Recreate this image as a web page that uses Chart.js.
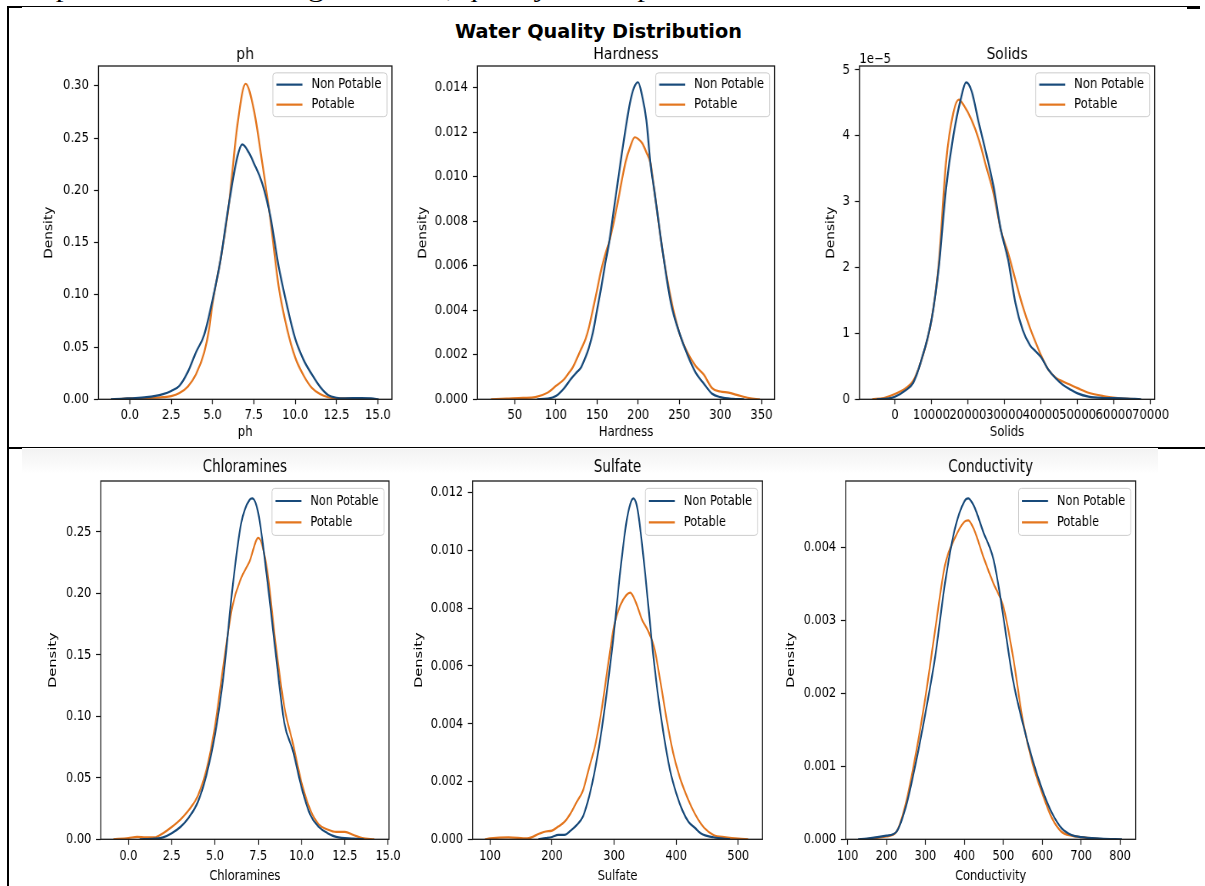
<!DOCTYPE html>
<html><head><meta charset="utf-8">
<script src="https://cdn.jsdelivr.net/npm/chart.js@4.4.1/dist/chart.umd.min.js"></script>
<style>
html,body{margin:0;padding:0;background:#fff;}
body{width:1205px;height:886px;overflow:hidden;position:relative;}
.abs{position:absolute;}
canvas{position:absolute;}
#caption{position:absolute;left:0;top:-24px;font-family:'Liberation Serif',serif;font-size:26px;line-height:26px;white-space:nowrap;transform-origin:0 0;color:#000;}
#suptitle{position:absolute;top:20.7px;font-family:'DejaVu Sans',sans-serif;font-weight:bold;font-size:20px;line-height:20px;white-space:nowrap;transform-origin:0 0;color:#000;}
</style></head><body>
<div id="caption">acceptable while drinking the water, quality of the predicted variables</div>
<div class="abs" style="left:22px;top:449px;width:1136px;height:25px;background:linear-gradient(to bottom,#f3f3f3 0%,#f9f9f9 55%,#ffffff 100%);"></div>
<div class="abs" style="left:8px;top:6px;width:1192px;height:1px;background:#000"></div>
<div class="abs" style="left:7px;top:6px;width:15px;height:2px;background:#000"></div>
<div class="abs" style="left:1187px;top:6px;width:13px;height:3px;background:#000"></div>
<div class="abs" style="left:7px;top:6px;width:2px;height:880px;background:#000"></div>
<div class="abs" style="left:7px;top:447px;width:1198px;height:1px;background:#000"></div>
<div class="abs" style="left:7px;top:447px;width:15px;height:2px;background:#000"></div>
<div class="abs" style="left:1158px;top:447px;width:47px;height:2px;background:#000"></div>
<div id="suptitle">Water Quality Distribution</div>
<canvas id="c0"></canvas><canvas id="c1"></canvas><canvas id="c2"></canvas>
<canvas id="c3"></canvas><canvas id="c4"></canvas><canvas id="c5"></canvas>
<script>
// ---------- data ----------
const seriesLabels = ['Non Potable', 'Potable'];

// ph
const phXTicks = [0, 2.5, 5, 7.5, 10, 12.5, 15];
const phYTicks = [0, 0.05, 0.10, 0.15, 0.20, 0.25, 0.30];
const phNonPotable = [[-1.15,0],[-0.5,0.0005],[0,0.001],[1,0.002],[2,0.005],[2.5,0.008],[3,0.013],[3.5,0.026],[4,0.045],[4.5,0.062],[5,0.095],[5.5,0.135],[6,0.188],[6.5,0.232],[6.8,0.244],[7.2,0.236],[7.5,0.226],[8,0.207],[8.5,0.175],[9,0.127],[9.5,0.090],[10,0.058],[10.5,0.038],[11,0.024],[11.5,0.012],[12,0.004],[12.5,0.0015],[13,0.001],[14,0.0012],[14.6,0.0008],[15.05,0]];
const phPotable = [[-0.9,0],[0,0.0008],[1,0.0012],[2,0.002],[2.5,0.003],[3,0.006],[3.5,0.012],[4,0.024],[4.5,0.045],[4.8,0.068],[5,0.092],[5.5,0.135],[6,0.188],[6.5,0.262],[7,0.302],[7.5,0.277],[8,0.227],[8.5,0.172],[9,0.108],[9.5,0.068],[10,0.040],[10.5,0.023],[11,0.011],[11.5,0.005],[12,0.002],[12.5,0.001],[13.5,0.0008],[14.4,0]];

// Hardness
const hardnessXTicks = [50, 100, 150, 200, 250, 300, 350];
const hardnessYTicks = [0, 0.002, 0.004, 0.006, 0.008, 0.010, 0.012, 0.014];
const hardnessNonPotable = [[77,0],[90,0.00003],[100,0.00015],[110,0.0005],[118,0.0009],[125,0.0012],[130,0.0014],[135,0.0018],[140,0.0023],[145,0.0030],[150,0.0040],[155,0.0050],[160,0.0061],[165,0.0071],[170,0.0084],[175,0.0097],[180,0.0110],[185,0.0122],[190,0.0133],[195,0.0140],[200,0.01424],[205,0.0136],[210,0.01255],[215,0.0106],[220,0.0093],[230,0.0066],[240,0.0043],[250,0.0030],[260,0.0020],[270,0.0012],[280,0.0007],[290,0.00025],[300,0.0001],[315,0.00002],[329,0]];
const hardnessPotable = [[21,0],[40,0.00003],[60,0.00006],[75,0.0001],[90,0.0003],[100,0.0006],[110,0.0009],[116,0.0012],[120,0.0014],[130,0.0022],[136,0.0027],[140,0.0032],[146,0.0042],[150,0.0049],[155,0.0058],[160,0.0065],[165,0.0071],[170,0.0079],[175,0.0088],[180,0.0098],[185,0.0107],[190,0.0113],[196,0.01177],[200,0.0117],[205,0.0115],[210,0.0111],[215,0.0106],[220,0.0093],[230,0.0066],[240,0.0045],[250,0.0030],[260,0.0021],[270,0.0015],[280,0.0011],[290,0.0005],[300,0.00035],[310,0.0003],[320,0.0002],[335,0.00005],[348,0]];

// Solids (density in units of 1e-5)
const solidsXTicks = [0, 10000, 20000, 30000, 40000, 50000, 60000, 70000];
const solidsYTicks = [0, 1, 2, 3, 4, 5];
const solidsNonPotable = [[-5000,0],[-2000,0.01],[0,0.04],[3000,0.14],[5000,0.25],[7000,0.55],[10000,1.2],[12000,2.0],[14000,3.2],[16000,4.0],[18000,4.55],[19500,4.81],[21000,4.68],[23000,4.19],[25000,3.73],[27000,3.23],[29000,2.57],[31000,2.12],[33000,1.46],[35000,1.05],[37000,0.82],[38500,0.73],[40000,0.64],[42000,0.45],[44000,0.32],[46000,0.22],[48000,0.15],[50000,0.09],[53000,0.04],[57000,0.02],[62000,0.015],[67400,0]];
const solidsPotable = [[-6200,0],[-3000,0.02],[0,0.08],[3000,0.17],[5000,0.28],[7000,0.55],[10000,1.2],[12000,2.05],[14000,3.6],[16000,4.35],[17500,4.55],[19000,4.45],[21000,4.24],[23000,3.94],[25000,3.53],[27000,3.13],[29000,2.57],[31000,2.22],[33000,1.81],[35000,1.41],[37000,1.08],[39000,0.80],[40000,0.67],[42000,0.45],[44000,0.33],[46000,0.27],[48000,0.22],[50000,0.17],[53000,0.10],[57000,0.05],[61000,0.02],[64000,0.005],[66000,0]];

// Chloramines
const chlorXTicks = [0, 2.5, 5, 7.5, 10, 12.5, 15];
const chlorYTicks = [0, 0.05, 0.10, 0.15, 0.20, 0.25];
const chlorNonPotable = [[0.65,0],[1.5,0.0005],[2,0.0016],[2.5,0.005],[3,0.010],[3.5,0.018],[4,0.030],[4.5,0.052],[5,0.085],[5.5,0.134],[6,0.203],[6.5,0.256],[7,0.276],[7.15,0.277],[7.5,0.265],[8,0.213],[8.5,0.152],[9,0.095],[9.5,0.072],[10,0.042],[10.5,0.020],[11,0.010],[11.5,0.005],[12,0.002],[13,0.0005],[13.6,0]];
const chlorPotable = [[-0.87,0],[0,0.001],[0.5,0.002],[1,0.0015],[1.5,0.0015],[2,0.005],[2.5,0.010],[3,0.016],[3.5,0.024],[4,0.035],[4.5,0.056],[5,0.092],[5.5,0.143],[6,0.189],[6.5,0.212],[7,0.226],[7.5,0.245],[8,0.220],[8.5,0.159],[9,0.108],[9.5,0.078],[10,0.046],[10.5,0.024],[11,0.012],[11.5,0.008],[12,0.006],[12.5,0.006],[13,0.0035],[13.5,0.001],[14.2,0]];

// Sulfate
const sulfateXTicks = [100, 200, 300, 400, 500];
const sulfateYTicks = [0, 0.002, 0.004, 0.006, 0.008, 0.010, 0.012];
const sulfateNonPotable = [[178,0],[190,0.00004],[200,0.00008],[210,0.00015],[220,0.00015],[230,0.0003],[240,0.0005],[250,0.0008],[260,0.0015],[270,0.0025],[280,0.0038],[290,0.0054],[300,0.0072],[310,0.0093],[320,0.0110],[326,0.0116],[331,0.0118],[336,0.0116],[340,0.0111],[350,0.0092],[360,0.0070],[370,0.0051],[380,0.0036],[390,0.0024],[400,0.0016],[410,0.0010],[420,0.0006],[430,0.0004],[440,0.0002],[460,0.00007],[487,0]];
const sulfatePotable = [[92,0],[100,0.00003],[130,0.00007],[160,0.00003],[180,0.0002],[190,0.00027],[200,0.0003],[210,0.00044],[220,0.0006],[230,0.0009],[240,0.0013],[250,0.0017],[260,0.0025],[270,0.0033],[280,0.0045],[290,0.0060],[300,0.0074],[310,0.0081],[320,0.00846],[326,0.00854],[335,0.0082],[345,0.0076],[355,0.0072],[365,0.0066],[375,0.0054],[385,0.0041],[395,0.0030],[405,0.0022],[415,0.0016],[425,0.0011],[435,0.0007],[445,0.0004],[460,0.00015],[480,0.00007],[500,0.00002],[516,0]];

// Conductivity
const condXTicks = [100, 200, 300, 400, 500, 600, 700, 800];
const condYTicks = [0, 0.001, 0.002, 0.003, 0.004];
const condNonPotable = [[127,0],[150,0.00001],[200,0.00005],[225,0.0001],[250,0.00045],[275,0.00104],[300,0.00173],[325,0.0025],[350,0.0035],[375,0.00424],[400,0.00463],[410,0.00467],[425,0.00456],[450,0.00419],[465,0.0040],[475,0.00383],[490,0.0034],[500,0.00305],[525,0.00218],[550,0.00159],[575,0.00109],[600,0.00068],[625,0.00036],[650,0.00015],[675,0.00006],[700,0.00003],[750,0.00001],[805,0]];
const condPotable = [[140,0],[200,0.00004],[225,0.0001],[250,0.0005],[275,0.00116],[300,0.00195],[325,0.00287],[350,0.00375],[375,0.00412],[400,0.00435],[410,0.00437],[425,0.00424],[450,0.00385],[475,0.0035],[500,0.00319],[525,0.0025],[550,0.00163],[575,0.00104],[600,0.00063],[625,0.00029],[650,0.0001],[675,0.00005],[700,0.00003],[755,0]];

// ---------- styles & layout ----------
const colors = { nonPotable: '#184a7a', potable: '#e3761f' };

const rows = {
  top:    { canvasTop: 45,  canvasBottom: 441, frameTop: 66,  frameBottom: 399.3, titleCenter: 54.5,  xTickCenter: 415,   xLabelCenter: 432,   sx: 0.85, tickFont: 13.7, titleFont: 16.4, xTickLen: 5,   yTickLenPage: 4.5, yTickPadPage: 5 },
  bottom: { canvasTop: 457, canvasBottom: 886, frameTop: 481, frameBottom: 839.3, titleCenter: 467.8, xTickCenter: 856.2, xLabelCenter: 876.6, sx: 0.77, tickFont: 14.7, titleFont: 17.5, xTickLen: 5.5, yTickLenPage: 4.7, yTickPadPage: 4.8 }
};

const panels = [
  { id: 'c0', row: 'top', title: 'ph', xLabel: 'ph', np: phNonPotable, po: phPotable, xTicks: phXTicks, yTicks: phYTicks, xMin: -1.9, xMax: 15.85, yMax: 0.319, xDec: 1, yDec: 2, L: 98.3, R: 392, yTitleX: 48.8 },
  { id: 'c1', row: 'top', title: 'Hardness', xLabel: 'Hardness', np: hardnessNonPotable, po: hardnessPotable, xTicks: hardnessXTicks, yTicks: hardnessYTicks, xMin: 4.5, xMax: 366, yMax: 0.01497, xDec: 0, yDec: 3, L: 477.3, R: 775, yTitleX: 422.8 },
  { id: 'c2', row: 'top', title: 'Solids', xLabel: 'Solids', np: solidsNonPotable, po: solidsPotable, xTicks: solidsXTicks, yTicks: solidsYTicks, xMin: -9700, xMax: 71100, yMax: 5.06, xDec: 0, yDec: 0, L: 859.3, R: 1155, yTitleX: 830.8, offsetText: '1e\u22125' },
  { id: 'c3', row: 'bottom', title: 'Chloramines', xLabel: 'Chloramines', np: chlorNonPotable, po: chlorPotable, xTicks: chlorXTicks, yTicks: chlorYTicks, xMin: -1.6, xMax: 15.05, yMax: 0.2912, xDec: 1, yDec: 2, L: 100.7, R: 389.3, yTitleX: 52.7 },
  { id: 'c4', row: 'bottom', title: 'Sulfate', xLabel: 'Sulfate', np: sulfateNonPotable, po: sulfatePotable, xTicks: sulfateXTicks, yTicks: sulfateYTicks, xMin: 72, xMax: 539, yMax: 0.0124, xDec: 0, yDec: 3, L: 472.7, R: 762.7, yTitleX: 418.9 },
  { id: 'c5', row: 'bottom', title: 'Conductivity', xLabel: 'Conductivity', np: condNonPotable, po: condPotable, xTicks: condXTicks, yTicks: condYTicks, xMin: 95, xMax: 840, yMax: 0.004908, xDec: 0, yDec: 3, L: 845.7, R: 1135.7, yTitleX: 790.9 }
];

Chart.defaults.font.family = "'DejaVu Sans', sans-serif";
Chart.defaults.color = '#000';

// frame, legend and offset text drawn the matplotlib way
const mplDecor = {
  id: 'mplDecor',
  afterDatasetsDraw(chart, args, opts) {
    const ctx = chart.ctx, a = chart.chartArea, sx = opts.sx, fs = opts.fontSize;
    ctx.save();
    ctx.strokeStyle = '#1a1a1a'; ctx.lineWidth = 1.3;
    ctx.strokeRect(a.left, a.top, a.right - a.left, a.bottom - a.top);
    ctx.font = fs + "px 'DejaVu Sans'";
    const ds = chart.data.datasets;
    const textW = Math.max(...ds.map(d => ctx.measureText(d.label).width));
    const padL = 3.5 / sx, sample = 26 / sx, gap = 9 / sx, padR = 5.5 / sx;
    const w = padL + sample + gap + textW + padR;
    const right = a.right - 5 / sx, left = right - w;
    const top = a.top + 0.5 * fs, h = 3.2 * fs, rad = 3;
    ctx.beginPath();
    ctx.moveTo(left + rad / sx, top);
    ctx.lineTo(right - rad / sx, top);
    ctx.quadraticCurveTo(right, top, right, top + rad);
    ctx.lineTo(right, top + h - rad);
    ctx.quadraticCurveTo(right, top + h, right - rad / sx, top + h);
    ctx.lineTo(left + rad / sx, top + h);
    ctx.quadraticCurveTo(left, top + h, left, top + h - rad);
    ctx.lineTo(left, top + rad);
    ctx.quadraticCurveTo(left, top, left + rad / sx, top);
    ctx.closePath();
    ctx.fillStyle = 'rgba(255,255,255,0.8)'; ctx.fill();
    ctx.strokeStyle = '#cccccc'; ctx.lineWidth = 1; ctx.stroke();
    ds.forEach((d, i) => {
      const y = a.top + 1.36 * fs + i * 1.46 * fs;
      ctx.strokeStyle = d.borderColor; ctx.lineWidth = 2.2;
      ctx.beginPath(); ctx.moveTo(left + padL, y); ctx.lineTo(left + padL + sample, y); ctx.stroke();
      ctx.fillStyle = '#000'; ctx.textBaseline = 'middle'; ctx.textAlign = 'left';
      ctx.fillText(d.label, left + padL + sample + gap, y);
    });
    if (opts.offsetText) {
      ctx.fillStyle = '#000'; ctx.textBaseline = 'alphabetic'; ctx.textAlign = 'left';
      ctx.fillText(opts.offsetText, a.left, a.top - 2.7);
    }
    ctx.restore();
  }
};

function build(p) {
  const r = rows[p.row], sx = r.sx;
  const lhTick = 1.2 * r.tickFont, lhTitle = 1.2 * r.titleFont;
  const canvasLeft = p.yTitleX - sx * lhTick / 2;
  const Wy = (p.L - canvasLeft) / sx;
  const plotW = (p.R - p.L) / sx;
  const W = Math.ceil(Wy + plotW + 26);
  const padR = W - Wy - plotW;
  const H = r.canvasBottom - r.canvasTop;
  const Hx = r.canvasBottom - r.frameBottom;
  const tPadTop = Math.max(0, r.titleCenter - r.canvasTop - lhTitle / 2);
  const tPadBottom = r.frameTop - r.canvasTop - tPadTop - lhTitle;
  const xTitlePadBottom = r.canvasBottom - r.xLabelCenter - lhTick / 2;
  const xTickPad = r.xTickCenter - r.frameBottom - r.xTickLen - lhTick / 2;

  const cv = document.getElementById(p.id);
  cv.width = W; cv.height = H;
  cv.style.left = canvasLeft + 'px'; cv.style.top = r.canvasTop + 'px';
  cv.style.width = (W * sx) + 'px'; cv.style.height = H + 'px';

  const toPts = arr => arr.map(([x, y]) => ({ x, y }));
  new Chart(cv, {
    type: 'line',
    data: {
      datasets: [
        { label: seriesLabels[0], data: toPts(p.np), borderColor: colors.nonPotable, borderWidth: 2.2, pointRadius: 0, cubicInterpolationMode: 'monotone', fill: false },
        { label: seriesLabels[1], data: toPts(p.po), borderColor: colors.potable, borderWidth: 2.2, pointRadius: 0, cubicInterpolationMode: 'monotone', fill: false }
      ]
    },
    options: {
      responsive: false, devicePixelRatio: 1, animation: false, events: [],
      layout: { padding: { left: 0, top: 0, bottom: 0, right: padR } },
      plugins: {
        legend: { display: false }, tooltip: { enabled: false },
        title: { display: true, text: p.title, position: 'top', fullSize: false, color: '#000',
                 font: { size: r.titleFont, weight: 'normal' }, padding: { top: tPadTop, bottom: tPadBottom } },
        mplDecor: { sx: sx, fontSize: r.tickFont, offsetText: p.offsetText || null }
      },
      scales: {
        x: {
          type: 'linear', position: 'bottom', bounds: 'data', min: p.xMin, max: p.xMax,
          afterBuildTicks: s => { s.ticks = p.xTicks.map(v => ({ value: v })); },
          afterFit: s => { s.height = Hx; },
          ticks: { autoSkip: false, maxRotation: 0, minRotation: 0, padding: xTickPad, color: '#000',
                   font: { size: r.tickFont }, callback: v => Number(v).toFixed(p.xDec) },
          grid: { display: true, drawOnChartArea: false, drawTicks: true, tickLength: r.xTickLen, color: '#111', tickWidth: 1.2 },
          border: { display: false },
          title: { display: true, text: p.xLabel, color: '#000', font: { size: r.tickFont }, padding: { top: 0, bottom: xTitlePadBottom } }
        },
        y: {
          type: 'linear', position: 'left', bounds: 'data', min: 0, max: p.yMax,
          afterBuildTicks: s => { s.ticks = p.yTicks.map(v => ({ value: v })); },
          afterFit: s => { s.width = Wy; },
          ticks: { autoSkip: false, padding: r.yTickPadPage / sx, color: '#000',
                   font: { size: r.tickFont }, callback: v => Number(v).toFixed(p.yDec) },
          grid: { display: true, drawOnChartArea: false, drawTicks: true, tickLength: r.yTickLenPage / sx, color: '#111', tickWidth: 1.2 },
          border: { display: false },
          title: { display: true, text: 'Density', color: '#000', font: { size: r.tickFont }, padding: { top: 0, bottom: 0 } }
        }
      }
    },
    plugins: [mplDecor]
  });
}

panels.forEach(build);

// suptitle & clipped caption fitted to their widths in the reference
const st = document.getElementById('suptitle');
const stW = st.getBoundingClientRect().width;
const stTarget = 287;
st.style.transform = 'scaleX(' + (stTarget / stW) + ')';
st.style.left = (598.5 - stTarget / 2) + 'px';
const cap = document.getElementById('caption');
const capW = cap.getBoundingClientRect().width;
cap.style.transform = 'scaleX(' + (875 / capW) + ')';
</script>
</body></html>
